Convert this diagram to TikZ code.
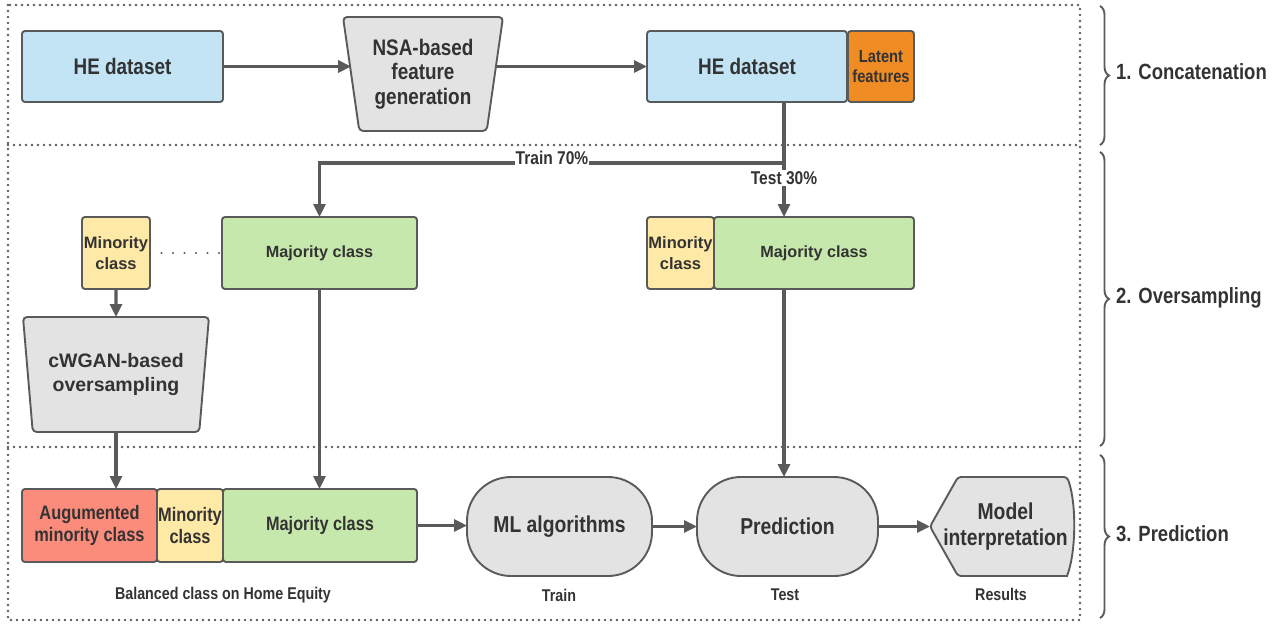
\documentclass[tikz,border=0pt]{standalone}
\usepackage{fontspec}
\setmainfont{Liberation Sans}
\newfontfamily\narrowsf[FakeStretch=0.84]{Liberation Sans}
\usepackage{xcolor}
\usetikzlibrary{shapes.geometric, arrows.meta, decorations.pathreplacing, positioning, calc}

\definecolor{linegray}{HTML}{5A5A5A}
\definecolor{textgray}{HTML}{333333}
\definecolor{heblue}{HTML}{C2E4F5}
\definecolor{latentorange}{HTML}{F08C24}
\definecolor{minyellow}{HTML}{FFE9A6}
\definecolor{majgreen}{HTML}{C6E8AD}
\definecolor{augred}{HTML}{FB8C7B}
\definecolor{procgray}{HTML}{E3E3E3}

% font size with line spacing factor
\newcommand{\fsz}[2][1.1]{\fontsize{#2}{\fpeval{#1*#2}}\selectfont}

\begin{document}
\begin{tikzpicture}[
    x=1pt, y=-1pt,
    box/.style={draw=linegray, line width=1.9pt, rounded corners=3pt, text=textgray,
                align=center, inner sep=0pt, outer sep=0pt, font=\bfseries},
    bluebox/.style={box, fill=heblue},
    orangebox/.style={box, fill=latentorange},
    minbox/.style={box, fill=minyellow},
    majbox/.style={box, fill=majgreen},
    augbox/.style={box, fill=augred},
    trapbox/.style={box, fill=procgray, trapezium, trapezium left angle=103,
                    trapezium right angle=103, trapezium stretches body, rounded corners=4pt},
    procbox/.style={box, fill=procgray, rounded corners=44pt},
    arr/.style={draw=linegray, line width=3.1pt, -{Triangle[length=13pt,width=12pt]}},
    frame/.style={draw=linegray, line width=2.9pt, line cap=round, dash pattern=on 0pt off 6pt},
    sparse/.style={draw=linegray, line width=2.3pt, line cap=round, dash pattern=on 0pt off 11.5pt},
    stage/.style={draw=linegray, line width=1.9pt, decorate, decoration={brace, amplitude=9pt}},
    steplab/.style={anchor=west, text=textgray, font=\narrowsf\bfseries\fsz{22}, inner sep=0pt},
    cutlab/.style={fill=white, text=textgray, font=\narrowsf\bfseries\fsz{18.5}, inner sep=1pt},
    sublab/.style={text=textgray, font=\narrowsf\bfseries\fsz{17}, inner sep=0pt},
]
\useasboundingbox (0,0) rectangle (1288,624);

% -------------------------------------------------
% Stage frames and braces
% -------------------------------------------------
\draw[frame] (8,5) rectangle (1080,620);
\draw[frame] (8,145) -- (1080,145);
\draw[frame] (8,447) -- (1080,447);

\draw[stage] (1100,6) -- (1100,145);
\draw[stage] (1100,152) -- (1100,446);
\draw[stage] (1100,455) -- (1100,618);

\node[steplab] (lab1) at (1116,72) {1. Concatenation};
\node[steplab] (lab2) at (1116,298) {2. Oversampling};
\node[steplab] (lab3) at (1116,534) {3. Prediction};

% -------------------------------------------------
% 1. Concatenation
% -------------------------------------------------
\node[bluebox, minimum width=201, minimum height=71, font=\narrowsf\bfseries\fsz{22.5}]
    (he1) at (122.5,66.5) {HE dataset};
\node[trapbox, minimum width=160, minimum height=114, font=\narrowsf\bfseries\fsz{22.5}]
    (nsa) at (423,74) {NSA-based\\feature\\generation};
\node[bluebox, minimum width=200, minimum height=71, font=\narrowsf\bfseries\fsz{22.5}]
    (he2) at (747,66.5) {HE dataset};
\node[orangebox, minimum width=66, minimum height=71, right=1pt of he2,
      font=\narrowsf\bfseries\fsz{17.5}] (latent) {Latent\\features};

\draw[arr] (he1.east) -- (he1.east -| nsa.west);
\draw[arr] (he2.west -| nsa.east) -- (he2.west);

% -------------------------------------------------
% 2. Oversampling
% -------------------------------------------------
\coordinate (split) at (784,163);

\node[minbox, minimum width=68, minimum height=72, font={\bfseries\fsz[1.27]{16.5}}]
    (min1) at (116,253) {Minority\\class};
\node[majbox, minimum width=195, minimum height=72, font=\bfseries\fsz{16.2}]
    (maj1) at (319.5,253) {Majority class};
\node[trapbox, minimum width=186, minimum height=115, font={\bfseries\fsz[1.23]{19.5}}]
    (cwgan) at (116,374.5) {cWGAN-based\\oversampling};

\node[majbox, minimum width=200, minimum height=72, font=\bfseries\fsz{16.2}]
    (maj2) at (814,253) {Majority class};
\node[minbox, minimum width=67, minimum height=72, left=0pt of maj2,
      font={\bfseries\fsz[1.27]{16.5}}] (min2) {Minority\\class};

\draw[sparse] (min1.east) -- (maj1.west);
\draw[arr] (min1.south) -- (cwgan.north);

\draw[arr] (split |- he2.south) -- (split) -| (maj1.north);
\draw[arr] (split) -- (split |- maj2.north);

\node[cutlab] (train) at (552,158) {Train 70\%};
\node[cutlab] (test) at (784,178) {Test 30\%};

% -------------------------------------------------
% 3. Prediction
% -------------------------------------------------
\node[augbox, minimum width=135, minimum height=73, font=\narrowsf\bfseries\fsz{19.5}]
    (aug) at (89.5,525.5) {Augumented\\minority class};
\node[minbox, minimum width=66, minimum height=73, right=0pt of aug,
      font=\narrowsf\bfseries\fsz{19.5}] (min3) {Minority\\class};
\node[majbox, minimum width=194, minimum height=73, right=0pt of min3,
      font=\narrowsf\bfseries\fsz{19.4}] (maj3) {Majority class};

\node[procbox, minimum width=185, minimum height=99, font=\narrowsf\bfseries\fsz{23}]
    (ml) at (559.5,526.5) {ML algorithms};
\node[procbox, minimum width=181, minimum height=99, font=\narrowsf\bfseries\fsz{23}]
    (pred) at (787.5,526.5) {Prediction};

% display shape for the results
\coordinate (modelc) at (1002.5,526.5);
\coordinate (modeltip) at (930,526.5);
\draw[draw=linegray, line width=1.9pt, fill=procgray, rounded corners=3pt]
    (modeltip) -- ($(modelc)+(-44.5,-49.5)$) -- ($(modelc)+(64.5,-49.5)$)
    [sharp corners] .. controls ($(modelc)+(74,-25)$) and ($(modelc)+(74,25)$) .. ($(modelc)+(64.5,49.5)$)
    [rounded corners=3pt] -- ($(modelc)+(-44.5,49.5)$) -- cycle;
\node[text=textgray, align=center, font=\narrowsf\bfseries\fsz{23}, inner sep=0pt]
    (model) at ($(modelc)+(3,0)$) {Model\\interpretation};

\draw[arr] (cwgan.south) -- (cwgan.south |- aug.north);
\draw[arr] (maj1.south) -- (maj1.south |- maj3.north);
\draw[arr] (split |- maj2.south) -- (split |- pred.north);

\draw[arr] (maj3.east) -- (maj3.east -| ml.west);
\draw[arr] (ml.east) -- (ml.east -| pred.west);
\draw[arr] (pred.east) -- (modeltip);

\node[sublab] (balanced) at (223,595) {Balanced class on Home Equity};
\node[sublab] (trainlab) at (559,595) {Train};
\node[sublab] (testlab) at (785,595) {Test};
\node[sublab] (reslab) at (1001,594) {Results};

\end{tikzpicture}
\end{document}
